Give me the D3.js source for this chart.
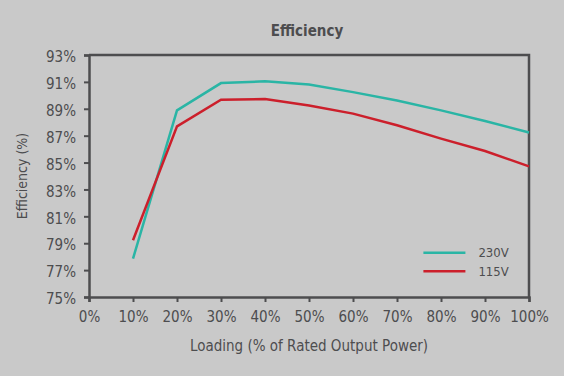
<!DOCTYPE html>
<html>
<head>
<meta charset="utf-8">
<script src="https://cdn.jsdelivr.net/npm/d3@7"></script>
<style>
  body { margin: 0; background: #c9c9c9; }
  svg { display: block; }
  text { font-family: "Liberation Sans Narrow", "DejaVu Sans Condensed", "Roboto", sans-serif; fill: #4d4d4f; }
</style>
</head>
<body>
<svg id="chart"></svg>
<script>
// Chart data
let loading = [10, 20, 30, 40, 50, 60, 70, 80, 90, 100];
let eff230 = [77.85, 88.88, 90.91, 91.04, 90.81, 90.24, 89.62, 88.88, 88.09, 87.24];
let eff115 = [79.22, 87.69, 89.68, 89.72, 89.25, 88.64, 87.77, 86.78, 85.86, 84.72];
let xTicks = [0, 10, 20, 30, 40, 50, 60, 70, 80, 90, 100];
let yTicks = [75, 77, 79, 81, 83, 85, 87, 89, 91, 93];
let seriesNames = ["230V", "115V"];
let seriesColors = ["#2ab5a5", "#cc1f2b"];

let W = 564, H = 376;
let margin = {top: 55, right: 35, bottom: 79, left: 89};
let width = W - margin.left - margin.right;
let height = H - margin.top - margin.bottom;

let svg = d3.select("#chart").attr("width", W).attr("height", H);
let g = svg.append("g").attr("transform", `translate(${margin.left}, ${margin.top})`);

let xScale = d3.scaleLinear().domain([0, 100]).range([0, width]);
let yScale = d3.scaleLinear().domain([75, 93]).range([height, 0]);

// Frame (top and right edges)
g.append("path")
  .attr("d", `M0,0H${width}V${height}`)
  .attr("fill", "none")
  .attr("stroke", "#4d4d4f")
  .attr("stroke-width", 2.5);

// Axes
let xAxis = g.append("g")
  .attr("transform", `translate(0, ${height})`)
  .call(d3.axisBottom(xScale).tickValues(xTicks).tickSize(5).tickPadding(9).tickFormat(d => d + "%"));

let yAxis = g.append("g")
  .call(d3.axisLeft(yScale).tickValues(yTicks).tickSize(5).tickPadding(8).tickFormat(d => d + "%"));

[xAxis, yAxis].forEach(a => {
  a.select(".domain").attr("stroke", "#4d4d4f").attr("stroke-width", 2.5);
  a.selectAll(".tick line").attr("stroke", "#4d4d4f").attr("stroke-width", 2);
  a.selectAll(".tick text").style("font-size", "15px").attr("fill", "#4d4d4f");
});
yAxis.selectAll(".tick text").attr("dy", "0.45em");

// Lines
let line = d3.line()
  .x(d => xScale(d[0]))
  .y(d => yScale(d[1]));

[eff230, eff115].forEach((vals, i) => {
  g.append("path")
    .datum(loading.map((x, j) => [x, vals[j]]))
    .attr("fill", "none")
    .attr("stroke", seriesColors[i])
    .attr("stroke-width", 2.5)
    .attr("d", line);
});

// Legend
let legend = g.append("g").attr("transform", `translate(${xScale(76)}, ${yScale(78.3)})`);
seriesNames.forEach((name, i) => {
  let row = legend.append("g").attr("transform", `translate(0, ${i * 18.5})`);
  row.append("line")
    .attr("x1", 0).attr("x2", 42)
    .attr("stroke", seriesColors[i])
    .attr("stroke-width", 2.5);
  row.append("text")
    .attr("x", 55).attr("dy", "0.35em")
    .style("font-size", "13px")
    .text(name);
});

// Title and axis labels
svg.append("text")
  .attr("x", 307).attr("y", 36)
  .attr("text-anchor", "middle")
  .style("font-size", "15px").style("font-weight", "bold")
  .text("Efficiency");

svg.append("text")
  .attr("x", 309).attr("y", 351)
  .attr("text-anchor", "middle")
  .style("font-size", "15px")
  .text("Loading (% of Rated Output Power)");

svg.append("text")
  .attr("transform", `translate(27, ${margin.top + height / 2}) rotate(-90)`)
  .attr("text-anchor", "middle")
  .style("font-size", "14px")
  .text("Efficiency (%)");
</script>
</body>
</html>
